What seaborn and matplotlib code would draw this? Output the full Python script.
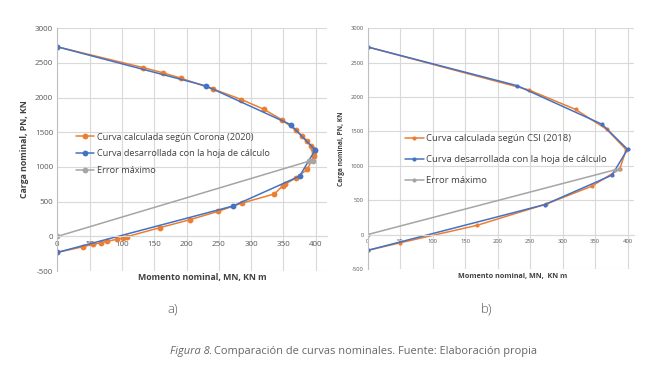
import matplotlib
matplotlib.use('Agg')
import matplotlib.pyplot as plt
import seaborn as sns

# a) Corona (2020) vs hoja de cálculo
corona_m = [0, 133, 163, 192, 241, 285, 320, 348, 369, 379, 386, 392, 395, 398,
            397, 387, 370, 353, 349, 336, 286, 249, 205, 159, 108, 102, 93, 77,
            67, 55, 40, 0]
corona_p = [2730, 2430, 2357, 2276, 2122, 1971, 1829, 1676, 1529, 1448, 1376,
            1305, 1262, 1210, 1165, 966, 846, 755, 731, 611, 481, 361, 240, 127,
            -3, -22, -40, -70, -93, -115, -148, -230]
hoja_m = [0, 230, 361, 399, 375, 272, 0]
hoja_p = [2730, 2167, 1610, 1245, 868, 438, -230]
error_a_m = [0, 389, 396]
error_a_p = [0, 1082, 1091]

# b) CSI (2018) vs hoja de cálculo
csi_m = [0, 248, 320, 368, 398, 388, 345, 275, 169, 50, 0]
csi_p = [2730, 2105, 1821, 1531, 1235, 955, 704, 445, 136, -120, -230]
hoja_b_m = [0, 230, 361, 400, 376, 273, 0]
hoja_b_p = [2730, 2167, 1604, 1240, 864, 437, -230]
error_b_m = [0, 380, 387]
error_b_p = [0, 940, 950]

x_ticks = [0, 50, 100, 150, 200, 250, 300, 350, 400]
y_ticks = [-500, 0, 500, 1000, 1500, 2000, 2500, 3000]

ORANGE = '#ED7D31'
BLUE = '#4472C4'
GRAY = '#A5A5A5'

sns.set_theme(style='whitegrid')
plt.rcParams['font.family'] = ['Open Sans', 'DejaVu Sans']
plt.rcParams['axes.unicode_minus'] = False

fig = plt.figure(figsize=(6.5, 3.74), dpi=100)


def draw_panel(ax, series, tick_size, label_size, legend_size, msize, lw,
               xmax, spacing, legend_anchor):
    for m, p, color, label in series:
        sns.lineplot(x=m, y=p, sort=False, estimator=None, color=color,
                     marker='o', markersize=msize, markeredgewidth=0,
                     linewidth=lw, label=label, ax=ax)
    ax.set_xlim(0, xmax)
    ax.set_ylim(-500, 3000)
    ax.set_xticks(x_ticks)
    ax.set_yticks(y_ticks)
    ax.grid(True, color='#D9D9D9', linewidth=0.8)
    ax.set_facecolor('white')
    for s in ['top', 'right']:
        ax.spines[s].set_visible(False)
    ax.spines['bottom'].set_position(('data', 0))
    ax.spines['bottom'].set_color('#D9D9D9')
    ax.spines['bottom'].set_linewidth(0.8)
    ax.spines['left'].set_color('#BFBFBF')
    ax.spines['left'].set_linewidth(0.8)
    ax.tick_params(axis='both', length=0, labelsize=tick_size,
                   labelcolor='#595959', pad=3)
    ax.set_xlabel('')
    ax.set_ylabel('Carga nominal, PN, KN', fontsize=label_size,
                  fontweight='bold', color='#404040', labelpad=4)
    ax.legend(loc='upper left', bbox_to_anchor=legend_anchor, frameon=False,
              fontsize=legend_size, labelspacing=spacing, handlelength=2.0,
              handletextpad=0.3, borderaxespad=0, labelcolor='#404040')


ax1 = fig.add_axes([0.0882, 0.275, 0.4145, 0.65])
draw_panel(ax1, [
    (corona_m, corona_p, ORANGE, 'Curva calculada según Corona (2020)'),
    (hoja_m, hoja_p, BLUE, 'Curva desarrollada con la hoja de cálculo'),
    (error_a_m, error_a_p, GRAY, 'Error máximo'),
], tick_size=5.8, label_size=6.3, legend_size=6.6, msize=4.2, lw=1.1,
    xmax=417, spacing=0.85, legend_anchor=(0.055, 0.585))

ax2 = fig.add_axes([0.5657, 0.281, 0.4097, 0.643])
draw_panel(ax2, [
    (csi_m, csi_p, ORANGE, 'Curva calculada según CSI (2018)'),
    (hoja_b_m, hoja_b_p, BLUE, 'Curva desarrollada con la hoja de cálculo'),
    (error_b_m, error_b_p, GRAY, 'Error máximo'),
], tick_size=4.2, label_size=4.8, legend_size=6.8, msize=3.0, lw=1.1,
    xmax=410, spacing=1.25, legend_anchor=(0.125, 0.575))

fig.text(0.311, 0.258, 'Momento nominal, MN, KN m', fontsize=6.3,
         fontweight='bold', color='#404040', ha='center', va='center')
fig.text(0.789, 0.260, 'Momento nominal, MN,  KN m', fontsize=5.2,
         fontweight='bold', color='#404040', ha='center', va='center')

fig.text(0.265, 0.174, 'a)', fontsize=9.5, color='#595959', ha='center',
         va='center', fontweight='light')
fig.text(0.748, 0.174, 'b)', fontsize=9.5, color='#595959', ha='center',
         va='center', fontweight='light')

fig.text(0.2615, 0.061, 'Figura 8.', fontsize=7.9, color='#666666',
         ha='left', va='center', style='italic')
fig.text(0.329, 0.061,
         'Comparación de curvas nominales. Fuente: Elaboración propia',
         fontsize=7.9, color='#666666', ha='left', va='center')

fig.savefig('out.png', dpi=100)
plt.close(fig)
